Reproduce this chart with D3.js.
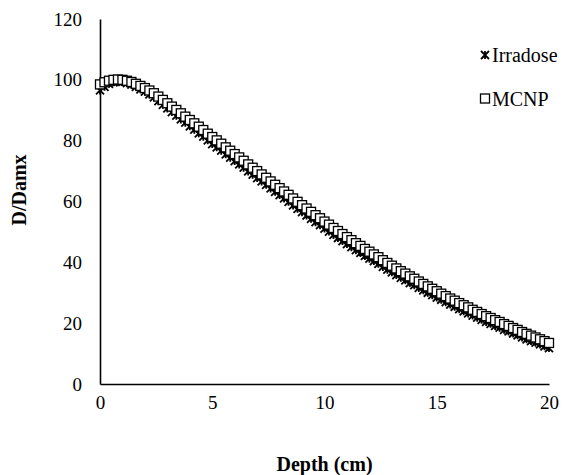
<!DOCTYPE html>
<html>
<head>
<meta charset="utf-8">
<script src="https://cdn.jsdelivr.net/npm/d3@7"></script>
<style>
  body { margin: 0; background: #fff; }
  svg { display: block; }
  text { font-family: "Liberation Serif", "Times New Roman", serif; fill: #000; }
</style>
</head>
<body>
<div id="chart"></div>
<script>
// depth in cm
var depth = [0, 0.2, 0.4, 0.6, 0.8, 1, 1.2, 1.4, 1.6, 1.8, 2, 2.2, 2.4, 2.6, 2.8, 3, 3.2, 3.4, 3.6, 3.8,
    4, 4.2, 4.4, 4.6, 4.8, 5, 5.2, 5.4, 5.6, 5.8, 6, 6.2, 6.4, 6.6, 6.8, 7, 7.2, 7.4, 7.6, 7.8,
    8, 8.2, 8.4, 8.6, 8.8, 9, 9.2, 9.4, 9.6, 9.8, 10, 10.2, 10.4, 10.6, 10.8, 11, 11.2, 11.4, 11.6, 11.8,
    12, 12.2, 12.4, 12.6, 12.8, 13, 13.2, 13.4, 13.6, 13.8, 14, 14.2, 14.4, 14.6, 14.8, 15, 15.2, 15.4, 15.6, 15.8,
    16, 16.2, 16.4, 16.6, 16.8, 17, 17.2, 17.4, 17.6, 17.8, 18, 18.2, 18.4, 18.6, 18.8, 19, 19.2, 19.4, 19.6, 19.8, 20];

var irradose = [96.5, 97.7, 98.7, 99.2, 99.4, 99.3, 98.9, 98.4, 97.7, 96.9, 96.1, 95.2, 94.2, 93.0, 91.8, 90.6, 89.4, 88.2, 87.0, 85.9,
    84.7, 83.6, 82.4, 81.3, 80.1, 78.9, 77.8, 76.7, 75.5, 74.4, 73.3, 72.2, 71.1, 69.9, 68.8, 67.7, 66.6, 65.5, 64.3, 63.2,
    62.1, 61.0, 59.9, 58.7, 57.6, 56.5, 55.4, 54.3, 53.2, 52.2, 51.1, 50.1, 49.0, 48.0, 47.0, 46.0, 45.0, 44.0, 43.1, 42.1,
    41.2, 40.4, 39.5, 38.5, 37.6, 36.7, 35.8, 34.9, 34.1, 33.2, 32.5, 31.6, 30.8, 30.0, 29.2, 28.4, 27.7, 26.9, 26.1, 25.4,
    24.6, 23.9, 23.2, 22.5, 21.8, 21.1, 20.4, 19.8, 19.1, 18.5, 17.8, 17.3, 16.6, 16.0, 15.3, 14.7, 14.1, 13.6, 13.0, 12.4, 11.8];

var mcnp = [98.5, 99.2, 99.7, 100.0, 100.1, 100.0, 99.7, 99.3, 98.7, 98.0, 97.3, 96.5, 95.6, 94.5, 93.4, 92.3, 91.2, 90.1, 89.0, 87.9,
    86.8, 85.7, 84.6, 83.5, 82.3, 81.2, 80.1, 79.0, 77.8, 76.7, 75.6, 74.5, 73.4, 72.2, 71.1, 70.0, 68.9, 67.8, 66.6, 65.5,
    64.4, 63.3, 62.2, 61.0, 59.9, 58.8, 57.7, 56.6, 55.5, 54.5, 53.4, 52.4, 51.3, 50.3, 49.3, 48.3, 47.3, 46.3, 45.4, 44.4,
    43.5, 42.6, 41.7, 40.7, 39.8, 38.9, 38.0, 37.1, 36.3, 35.4, 34.6, 33.7, 32.9, 32.1, 31.3, 30.5, 29.7, 28.9, 28.1, 27.4,
    26.6, 25.9, 25.2, 24.4, 23.7, 23.0, 22.3, 21.7, 21.0, 20.4, 19.7, 19.1, 18.4, 17.8, 17.1, 16.5, 15.9, 15.3, 14.7, 14.1, 13.5];

var xTicks = [0, 5, 10, 15, 20];
var yTicks = [0, 20, 40, 60, 80, 100, 120];

var width = 572, height = 475;
var margin = {top: 19, right: 23, bottom: 91, left: 100};
var serif = "'Liberation Serif', 'Times New Roman', serif";

var svg = d3.select("#chart").append("svg")
    .attr("width", width)
    .attr("height", height);

var x = d3.scaleLinear().domain([0, 20]).range([margin.left, width - margin.right]);
var y = d3.scaleLinear().domain([0, 120]).range([height - margin.bottom, margin.top]);

// axes, Excel style: plain lines, no tick marks
var xAxis = svg.append("g")
    .attr("transform", "translate(0," + y(0) + ")")
    .call(d3.axisBottom(x).tickValues(xTicks).tickSize(0).tickPadding(12));
var yAxis = svg.append("g")
    .attr("transform", "translate(" + x(0) + ",0)")
    .call(d3.axisLeft(y).tickValues(yTicks).tickSize(0).tickPadding(18));

[xAxis, yAxis].forEach(function (g) {
    g.attr("font-family", serif).attr("font-size", 19);
    g.select(".domain").attr("stroke", "#000").attr("stroke-width", 1.6);
    g.selectAll("text").attr("fill", "#000");
});

var starPath = function (s) {
    var h = s / 2;
    return "M" + (-h) + "," + (-h) + "L" + h + "," + h +
        "M" + h + "," + (-h) + "L" + (-h) + "," + h +
        "M0," + (-h) + "L0," + h;
};

var irrData = depth.map(function (d, i) { return [d, irradose[i]]; });
var mcnpData = depth.map(function (d, i) { return [d, mcnp[i]]; });

svg.append("g").selectAll("path")
    .data(irrData)
    .enter().append("path")
    .attr("transform", function (d) { return "translate(" + x(d[0]) + "," + y(d[1]) + ")"; })
    .attr("d", starPath(8))
    .attr("fill", "none")
    .attr("stroke", "#000")
    .attr("stroke-width", 1.8);

svg.append("g").selectAll("rect")
    .data(mcnpData)
    .enter().append("rect")
    .attr("x", function (d) { return x(d[0]) - 4.5; })
    .attr("y", function (d) { return y(d[1]) - 4.5; })
    .attr("width", 9)
    .attr("height", 9)
    .attr("fill", "#fff")
    .attr("stroke", "#000")
    .attr("stroke-width", 1.3);

// legend
var legend = svg.append("g").attr("font-family", serif).attr("font-size", 20);
legend.append("path")
    .attr("transform", "translate(485,55)")
    .attr("d", starPath(8))
    .attr("fill", "none")
    .attr("stroke", "#000")
    .attr("stroke-width", 1.8);
legend.append("text")
    .attr("x", 492).attr("y", 55).attr("dy", "0.35em")
    .text("Irradose");
legend.append("rect")
    .attr("x", 480.5).attr("y", 94).attr("width", 9).attr("height", 9)
    .attr("fill", "#fff").attr("stroke", "#000").attr("stroke-width", 1.3);
legend.append("text")
    .attr("x", 492).attr("y", 98.5).attr("dy", "0.35em")
    .text("MCNP");

// axis titles
svg.append("text")
    .attr("x", x(10)).attr("y", 464).attr("dy", "0.35em")
    .attr("text-anchor", "middle")
    .attr("font-family", serif)
    .style("font-size", "20px").style("font-weight", "bold")
    .text("Depth (cm)");
svg.append("text")
    .attr("transform", "translate(18.5,190) rotate(-90)")
    .attr("dy", "0.35em")
    .attr("text-anchor", "middle")
    .attr("font-family", serif)
    .style("font-size", "20px").style("font-weight", "bold")
    .text("D/Damx");
</script>
</body>
</html>
